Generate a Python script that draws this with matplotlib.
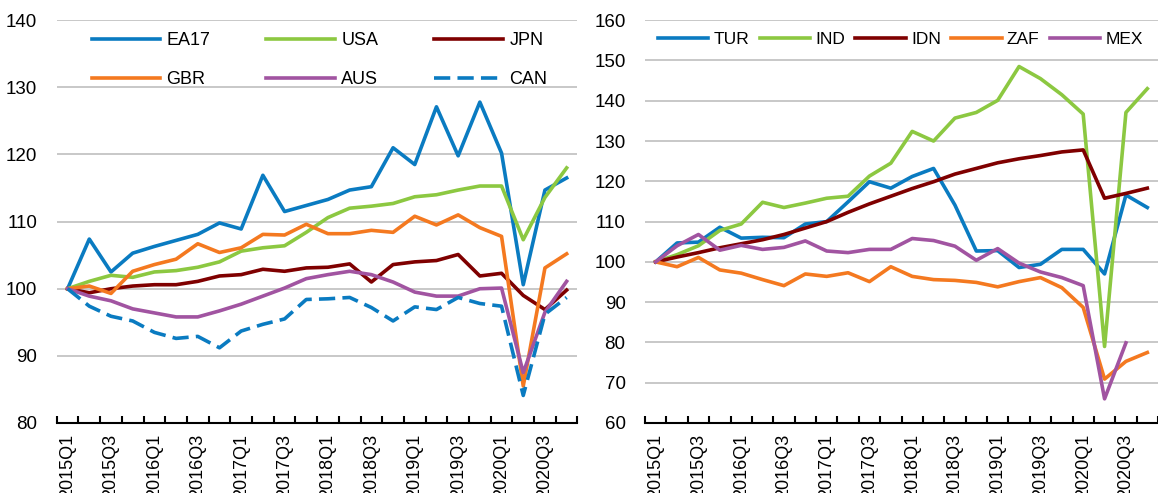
import numpy as np
import matplotlib
matplotlib.use('Agg')
from matplotlib import pyplot as plt

plt.rcParams['font.family'] = ['Liberation Sans', 'DejaVu Sans']

# Quarters 2015Q1 .. 2020Q4
quarters = [f'{y}Q{q}' for y in range(2015, 2021) for q in range(1, 5)]

# Left panel: advanced economies
EA17 = [100, 107.4, 102.5, 105.3, 106.3, 107.2, 108.1, 109.8, 108.9, 116.9, 111.5, 112.4,
        113.3, 114.7, 115.2, 121.0, 118.5, 127.1, 119.8, 127.8, 120.2, 100.6, 114.7, 116.5]
USA = [100, 101.1, 102.0, 101.7, 102.5, 102.7, 103.2, 104.0, 105.6, 106.1, 106.4, 108.4,
       110.6, 112.0, 112.3, 112.7, 113.7, 114.0, 114.7, 115.3, 115.3, 107.3, 113.6, 118.0]
JPN = [100, 99.4, 100.0, 100.4, 100.6, 100.6, 101.1, 101.9, 102.1, 102.9, 102.6, 103.1,
       103.2, 103.7, 101.0, 103.6, 104.0, 104.2, 105.1, 101.9, 102.3, 99.0, 96.9, 99.8]
GBR = [100, 100.4, 99.3, 102.6, 103.6, 104.4, 106.7, 105.4, 106.1, 108.1, 108.0, 109.6,
       108.2, 108.2, 108.7, 108.4, 110.8, 109.5, 111.0, 109.1, 107.8, 85.5, 103.1, 105.2]
AUS = [100, 98.9, 98.2, 97.0, 96.4, 95.8, 95.8, 96.7, 97.7, 98.9, 100.1, 101.5,
       102.1, 102.6, 102.1, 101.0, 99.5, 98.9, 98.9, 100.0, 100.1, 87.5, 96.5, 101.1]
CAN = [100, 97.4, 95.9, 95.2, 93.5, 92.6, 92.9, 91.2, 93.7, 94.7, 95.5, 98.4,
       98.5, 98.7, 97.2, 95.2, 97.3, 96.9, 98.7, 97.8, 97.4, 84.1, 96.2, 98.7]

# Right panel: emerging economies
TUR = [100, 104.7, 104.9, 108.6, 105.9, 106.1, 106.0, 109.4, 110.0, 114.9, 119.9, 118.3,
       121.2, 123.2, 114.1, 102.7, 102.8, 98.6, 99.4, 103.1, 103.1, 97.0, 116.6, 113.5]
IND = [100, 101.8, 104.0, 107.8, 109.4, 114.8, 113.5, 114.6, 115.8, 116.3, 121.3, 124.5,
       132.4, 130.0, 135.7, 137.1, 140.1, 148.5, 145.5, 141.5, 136.7, 79.0, 137.1, 143.0]
IDN = [100, 101.2, 102.3, 103.5, 104.5, 105.5, 106.8, 108.4, 110.0, 112.3, 114.4, 116.3,
       118.2, 119.9, 121.8, 123.2, 124.6, 125.6, 126.4, 127.3, 127.8, 115.8, 117.0, 118.3]
ZAF = [100, 98.8, 101.1, 98.0, 97.2, 95.6, 94.1, 97.0, 96.4, 97.3, 95.1, 98.8,
       96.4, 95.6, 95.4, 94.9, 93.8, 95.1, 96.1, 93.6, 88.7, 70.9, 75.3, 77.5]
MEX = [100, 104.0, 106.8, 102.9, 104.1, 103.1, 103.6, 105.2, 102.7, 102.3, 103.1, 103.1,
       105.8, 105.3, 103.9, 100.4, 103.3, 99.7, 97.5, 96.1, 94.1, 66.0, 79.9]

BLUE = '#0A7BC1'
GREEN = '#8CC841'
DRED = '#7F0000'
ORANGE = '#F47920'
PURPLE = '#A154A1'

LW = 2.6
FS = 13


def style_axis(ax, ylo, yhi):
    n = len(quarters)
    ax.set_xlim(-0.5, n - 0.5)
    ax.set_ylim(ylo, yhi)
    ax.set_yticks(np.arange(ylo, yhi + 1, 10))
    ax.grid(axis='y', color='#C8C8C8', lw=1.4)
    ax.set_axisbelow(True)
    for s in ['left', 'right', 'top']:
        ax.spines[s].set_visible(False)
    ax.spines['bottom'].set_linewidth(1.5)
    ax.spines['bottom'].set_zorder(5)
    ax.tick_params(axis='y', length=0, pad=14, labelsize=FS + 0.5)
    # ticks on the category boundaries, labels on every other quarter
    ax.set_xticks(np.arange(-0.5, n, 1))
    ax.set_xticklabels([])
    ax.tick_params(axis='x', which='major', direction='in', length=5, width=1.5)
    ax.set_xticks(np.arange(0, n, 2), minor=True)
    ax.set_xticklabels(quarters[::2], minor=True, rotation=90)
    ax.tick_params(axis='x', which='minor', length=0, pad=8, labelsize=FS)


fig = plt.figure(figsize=(11.58, 4.93), dpi=100)
ax1 = fig.add_axes([0.049, 0.142, 0.4497, 0.817])
ax2 = fig.add_axes([0.557, 0.142, 0.443, 0.817])

x = np.arange(len(quarters))

ax1.plot(x, EA17, color=BLUE, lw=LW, label='EA17')
ax1.plot(x, USA, color=GREEN, lw=LW, label='USA')
ax1.plot(x, JPN, color=DRED, lw=LW, label='JPN')
ax1.plot(x, GBR, color=ORANGE, lw=LW, label='GBR')
ax1.plot(x, AUS, color=PURPLE, lw=LW, label='AUS')
ax1.plot(x, CAN, color=BLUE, lw=LW, ls=(0, (4.5, 2)), label='CAN')
style_axis(ax1, 80, 140)

h, l = ax1.get_legend_handles_labels()
order = [0, 3, 1, 4, 2, 5]
ax1.legend([h[i] for i in order], [l[i] for i in order], ncol=3, frameon=False,
           loc='upper left', bbox_to_anchor=(0.067, 0.97), fontsize=FS,
           handlelength=3.8, handletextpad=0.35, columnspacing=3.1,
           labelspacing=1.2, borderaxespad=0, borderpad=0)

ax2.plot(x, TUR, color=BLUE, lw=LW, label='TUR')
ax2.plot(x, IND, color=GREEN, lw=LW, label='IND')
ax2.plot(x, IDN, color=DRED, lw=LW, label='IDN')
ax2.plot(x, ZAF, color=ORANGE, lw=LW, label='ZAF')
ax2.plot(x[:len(MEX)], MEX, color=PURPLE, lw=LW, label='MEX')
style_axis(ax2, 60, 160)
ax2.legend(ncol=5, frameon=False, loc='upper left', bbox_to_anchor=(0.025, 0.97),
           fontsize=12.5, handlelength=2.9, handletextpad=0.3, columnspacing=0.6,
           borderaxespad=0, borderpad=0)

fig.savefig('out.png', dpi=100)
